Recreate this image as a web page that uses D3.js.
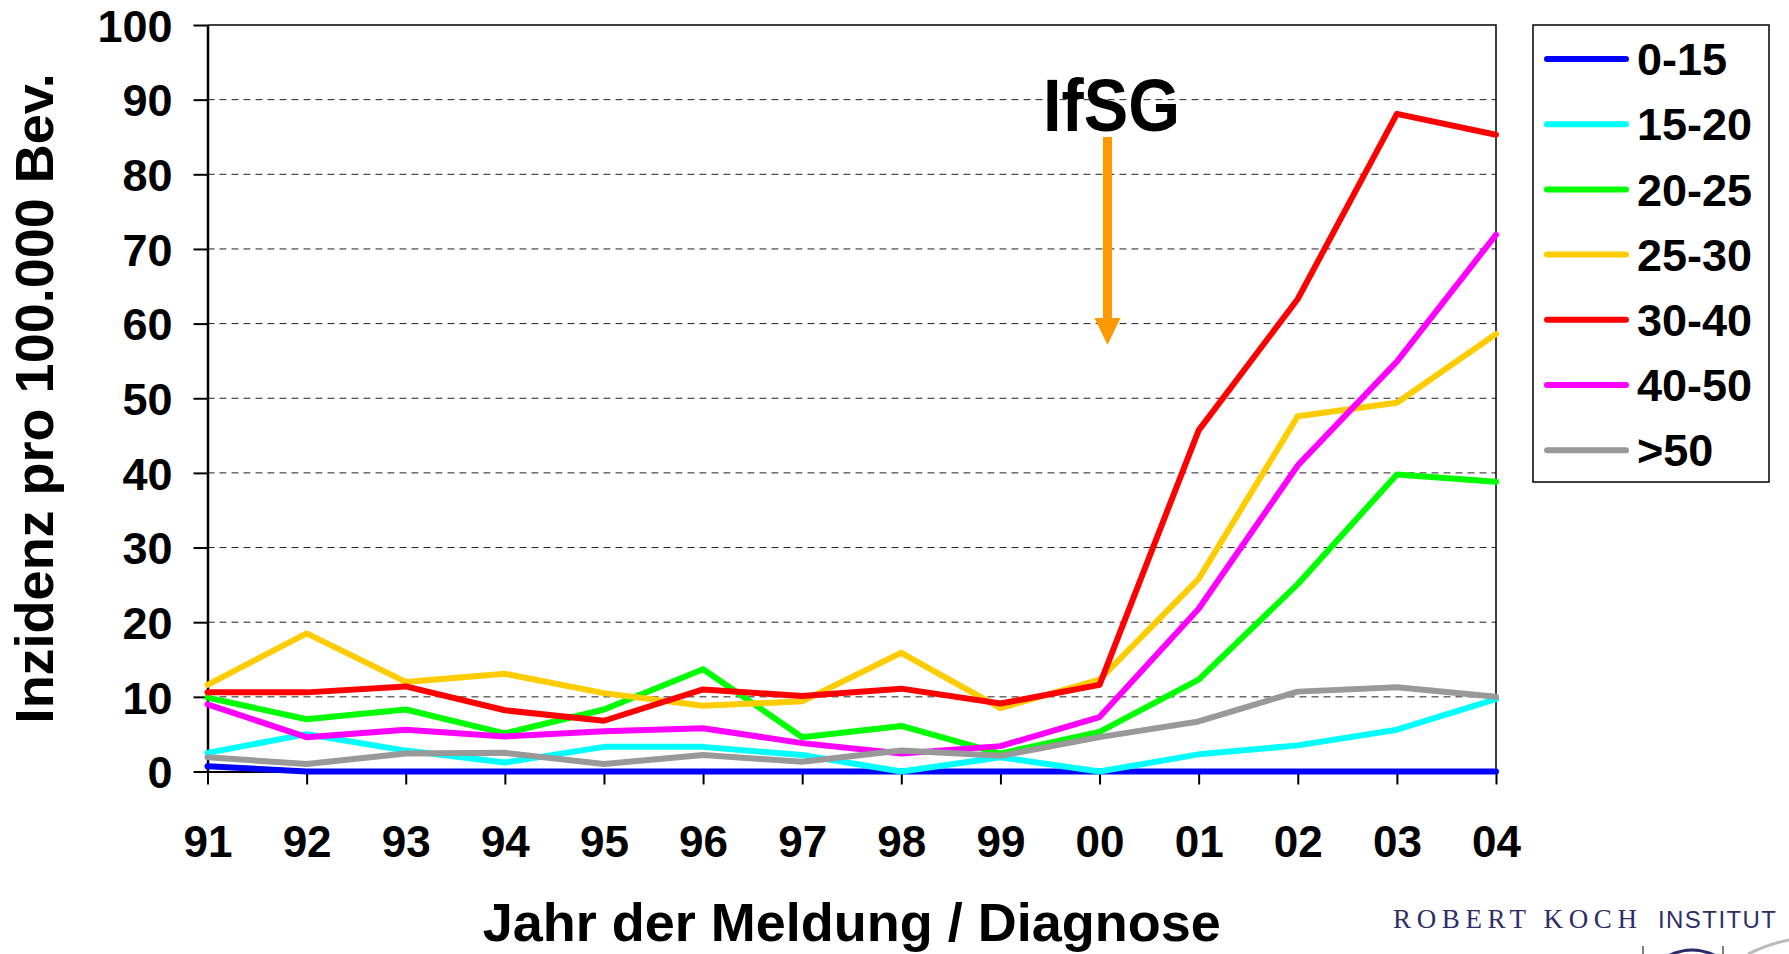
<!DOCTYPE html>
<html>
<head>
<meta charset="utf-8">
<script src="https://cdn.jsdelivr.net/npm/d3@7"></script>
<style>
  body { margin: 0; background: #fff; }
  svg { display: block; }
</style>
</head>
<body>
<div id="chart"></div>
<script>
// Inzidenz pro 100.000 Bev. nach Altersgruppe
var years = ["91", "92", "93", "94", "95", "96", "97", "98", "99", "00", "01", "02", "03", "04"];
var yTicks = [0, 10, 20, 30, 40, 50, 60, 70, 80, 90, 100];

var groups = ["0-15", "15-20", "20-25", "25-30", "30-40", "40-50", ">50"];
var colors = ["#0000ff", "#00ffff", "#00ff00", "#ffcc00", "#ff0000", "#ff00ff", "#999999"];

var s0_15   = [0.7, 0, 0, 0, 0, 0, 0, 0, 0, 0, 0, 0, 0, 0];
var s15_20  = [2.5, 5.0, 2.8, 1.2, 3.3, 3.3, 2.2, 0, 1.9, 0, 2.3, 3.5, 5.6, 9.7];
var s20_25  = [9.9, 7.0, 8.3, 5.1, 8.3, 13.7, 4.6, 6.1, 2.4, 5.3, 12.3, 25.1, 39.8, 38.8];
var s25_30  = [11.6, 18.5, 12.0, 13.1, 10.5, 8.8, 9.4, 15.9, 8.5, 12.3, 25.8, 47.6, 49.4, 58.6];
var s30_40  = [10.6, 10.6, 11.4, 8.2, 6.8, 11.0, 10.1, 11.1, 9.1, 11.6, 45.7, 63.3, 88.1, 85.3];
var s40_50  = [9.0, 4.6, 5.6, 4.7, 5.4, 5.8, 3.8, 2.4, 3.4, 7.3, 21.8, 41.0, 54.9, 71.9];
var s50plus = [1.9, 1.0, 2.4, 2.5, 1.0, 2.2, 1.3, 2.8, 2.1, 4.6, 6.7, 10.7, 11.3, 10.0];

var series = [s0_15, s15_20, s20_25, s25_30, s30_40, s40_50, s50plus];

var font = "'Liberation Sans', Arial, sans-serif";

var svg = d3.select("#chart").append("svg")
    .attr("width", 1789)
    .attr("height", 954);

var x = d3.scalePoint().domain(years).range([207.5, 1496]);
var y = d3.scaleLinear().domain([0, 100]).range([771.5, 25]);

// gitterlinien
svg.append("g")
    .selectAll("line")
    .data(yTicks.filter(function(d) { return d > 0 && d < 100; }))
    .enter()
    .append("line")
        .attr("x1", x.range()[0])
        .attr("x2", x.range()[1])
        .attr("y1", function(d) { return y(d); })
        .attr("y2", function(d) { return y(d); })
        .attr("stroke", "#222")
        .attr("stroke-width", 1)
        .attr("stroke-dasharray", "7,5");

// rahmen oben / rechts
svg.append("path")
    .attr("d", "M" + x.range()[0] + "," + y(100) + "H" + x.range()[1] + "V" + y(0))
    .attr("fill", "none")
    .attr("stroke", "#000")
    .attr("stroke-width", 1.5);

// y-achse
var yAxis = svg.append("g")
    .attr("transform", "translate(" + x.range()[0] + ",0)")
    .call(d3.axisLeft(y).tickValues(yTicks).tickSize(14).tickSizeOuter(0).tickPadding(21));
yAxis.select(".domain").attr("stroke-width", 2.5);
yAxis.selectAll(".tick line").attr("stroke-width", 2);
yAxis.selectAll("text")
    .attr("dy", "0.36em")
    .style("font-family", font)
    .style("font-weight", "bold")
    .style("font-size", "45px")
    .attr("fill", "#000");

// x-achse
var xAxis = svg.append("g")
    .attr("transform", "translate(0," + y(0) + ")")
    .call(d3.axisBottom(x).tickSize(13).tickSizeOuter(0));
xAxis.select(".domain").attr("stroke-width", 2);
xAxis.selectAll(".tick line").attr("stroke-width", 2);
xAxis.selectAll("text")
    .attr("y", 85.5)
    .attr("dy", 0)
    .style("font-family", font)
    .style("font-weight", "bold")
    .style("font-size", "44px")
    .attr("fill", "#000");

// linien
var line = d3.line()
    .x(function(d, i) { return x(years[i]); })
    .y(function(d) { return y(d); });

svg.append("g")
    .selectAll("path")
    .data(series)
    .enter()
    .append("path")
        .attr("d", line)
        .attr("fill", "none")
        .attr("stroke", function(d, i) { return colors[i]; })
        .attr("stroke-width", 6)
        .attr("stroke-linejoin", "round")
        .attr("stroke-linecap", "round");

// achsentitel
svg.append("text")
    .attr("transform", "translate(53," + ((y(0) + y(100)) / 2) + ") rotate(-90)")
    .attr("text-anchor", "middle")
    .style("font-family", font)
    .style("font-weight", "bold")
    .style("font-size", "54px")
    .text("Inzidenz pro 100.000 Bev.");

svg.append("text")
    .attr("x", (x.range()[0] + x.range()[1]) / 2)
    .attr("y", 941)
    .attr("text-anchor", "middle")
    .style("font-family", font)
    .style("font-weight", "bold")
    .style("font-size", "54px")
    .text("Jahr der Meldung / Diagnose");

// IfSG pfeil
svg.append("text")
    .attr("x", 1043)
    .attr("y", 131)
    .attr("textLength", 137)
    .attr("lengthAdjust", "spacingAndGlyphs")
    .style("font-family", font)
    .style("font-weight", "bold")
    .style("font-size", "74px")
    .text("IfSG");

svg.append("line")
    .attr("x1", 1107.5).attr("y1", 137)
    .attr("x2", 1107.5).attr("y2", 320)
    .attr("stroke", "#ff9900")
    .attr("stroke-width", 9);

svg.append("path")
    .attr("d", "M1094.5,318L1120.5,318L1107.5,345Z")
    .attr("fill", "#ff9900");

// legende
var legend = svg.append("g");
legend.append("rect")
    .attr("x", 1533)
    .attr("y", 25)
    .attr("width", 236)
    .attr("height", 457)
    .attr("fill", "#fff")
    .attr("stroke", "#000")
    .attr("stroke-width", 1.5);

var items = legend.selectAll("g.item")
    .data(groups)
    .enter()
    .append("g")
        .attr("class", "item")
        .attr("transform", function(d, i) { return "translate(0," + (59 + i * 65.2) + ")"; });

items.append("line")
    .attr("x1", 1547)
    .attr("x2", 1626)
    .attr("stroke", function(d, i) { return colors[i]; })
    .attr("stroke-width", 6)
    .attr("stroke-linecap", "round");

items.append("text")
    .attr("x", 1637)
    .attr("dy", "0.36em")
    .style("font-family", font)
    .style("font-weight", "bold")
    .style("font-size", "45px")
    .text(function(d) { return d; });

// RKI logo
svg.append("text")
    .attr("x", 1393)
    .attr("y", 928)
    .attr("textLength", 244)
    .attr("lengthAdjust", "spacing")
    .style("font-family", "'Liberation Serif', 'Times New Roman', serif")
    .style("font-size", "27px")
    .attr("fill", "#2e2e66")
    .text("ROBERT KOCH");

svg.append("text")
    .attr("x", 1658)
    .attr("y", 928)
    .attr("textLength", 118)
    .attr("lengthAdjust", "spacing")
    .style("font-family", font)
    .style("font-size", "24px")
    .attr("fill", "#2e2e66")
    .text("INSTITUT");

svg.append("path")
    .attr("d", "M1643,946V954M1723,946V954")
    .attr("stroke", "#555")
    .attr("stroke-width", 1.5);
svg.append("path")
    .attr("d", "M1668,956Q1692,944 1716,956")
    .attr("fill", "none")
    .attr("stroke", "#2b2b6b")
    .attr("stroke-width", 3);
svg.append("path")
    .attr("d", "M1748,954Q1768,944 1789,940")
    .attr("fill", "none")
    .attr("stroke", "#bbbbbb")
    .attr("stroke-width", 3);
</script>
</body>
</html>
